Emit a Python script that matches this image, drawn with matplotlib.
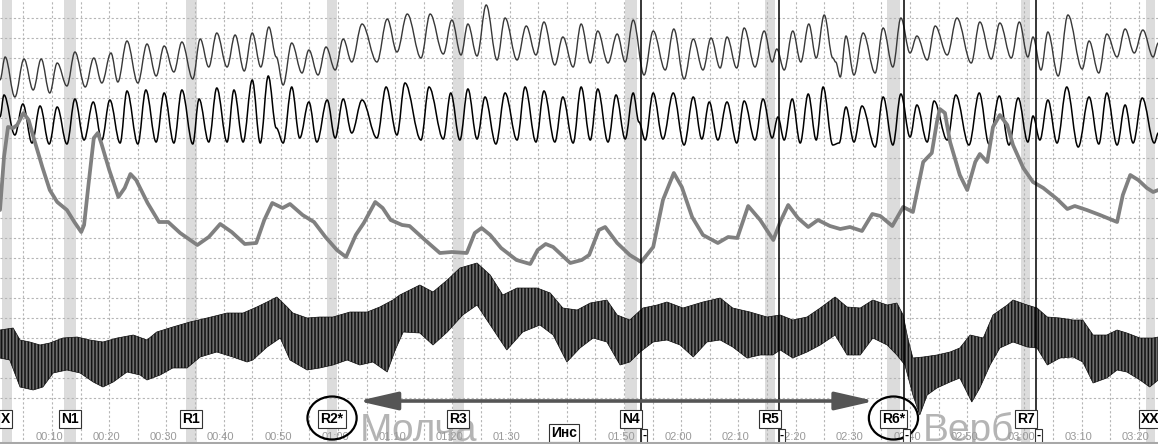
import matplotlib
matplotlib.use("Agg")
import matplotlib.pyplot as plt
from matplotlib.path import Path
from matplotlib.patches import PathPatch, Ellipse, FancyArrowPatch

plt.rcParams['font.family'] = ['Liberation Sans', 'DejaVu Sans']
plt.rcParams['hatch.linewidth'] = 1.1

# ---------------- data (time in seconds, values in chart units) ----------------
resp1_t = [0.9, 1.8, 3.5, 5.1, 6.7, 8.1, 9.6, 10.9, 12.6, 14.0, 15.8, 17.3, 18.7, 20.3, 21.5, 23.1,
           25.0, 26.6, 28.2, 29.6, 31.3, 32.7, 34.6, 35.9, 37.4, 38.8, 40.6, 42.0, 43.6, 45.0, 46.5,
           47.9, 49.2, 50.4, 51.9, 53.7, 54.9, 56.5, 57.9, 59.5, 60.9, 62.4, 64.2, 66.8, 68.6, 70.3,
           72.1, 74.5, 76.1, 78.4, 79.9, 81.5, 82.7, 84.3, 85.9, 87.8, 89.2, 91.3, 92.9, 94.6, 96.0,
           97.9, 99.3, 101.1, 102.5, 104.1, 105.4, 107.2, 108.8, 110.2, 111.6, 113.5, 115.1, 117.2,
           118.7, 120.5, 122.1, 123.8, 125.2, 126.8, 128.0, 129.7, 131.0, 132.9, 134.5, 135.9, 136.7,
           138.0, 139.5, 140.9, 142.3, 143.6, 145.0, 146.5, 147.0, 147.8, 148.8, 150.2, 151.8, 153.9,
           155.3, 157.0, 158.4, 160.0, 161.2, 163.0, 164.4, 166.5, 168.2, 170.7, 172.2, 174.2, 175.7,
           177.7, 179.1, 180.6, 181.5, 182.9, 184.1, 185.9, 187.6, 190.1, 191.3, 193.0, 194.4, 196.2,
           197.6, 199.2, 200.7, 202.5, 203.4]
resp1_v = [80, 57, 97, 59, 90, 59, 93, 63, 86, 52, 87, 58, 83, 53, 82, 41,
           83, 44, 76, 46, 72, 42, 79, 39, 67, 33, 67, 35, 71, 33, 67,
           27, 57, 85, 43, 73, 50, 75, 47, 70, 39, 62, 24, 62, 19, 52,
           14, 58, 14, 54, 20, 55, 24, 56, 5, 60, 18, 60, 26, 55, 22,
           65, 37, 67, 24, 63, 31, 63, 34, 62, 20, 75, 31, 70,
           29, 79, 39, 70, 38, 68, 37, 68, 28, 67, 31, 62, 49,
           70, 31, 62, 24, 58, 15, 58, 62, 77, 36, 75, 33, 73,
           28, 67, 18, 53, 36, 60, 26, 55, 18, 63, 22, 59, 23,
           58, 22, 57, 37, 70, 32, 76, 15, 69, 41, 73, 34, 57,
           29, 53, 30, 57, 43]

resp2_t = [0.9, 1.6, 3.5, 4.9, 6.5, 7.9, 9.5, 10.9, 12.6, 14.0, 15.6, 17.2, 18.7, 20.1, 21.9, 23.1,
           25.0, 26.4, 28.2, 29.6, 31.3, 32.7, 34.6, 35.7, 37.4, 38.8, 40.6, 41.8, 43.4, 45.0, 46.4,
           47.8, 49.2, 50.4, 51.9, 53.3, 54.9, 56.3, 58.1, 59.5, 60.9, 62.4, 64.2, 66.8, 68.4, 70.3,
           71.7, 74.5, 75.9, 78.4, 79.7, 81.3, 82.7, 84.3, 85.7, 87.6, 89.2, 91.3, 92.7, 94.6, 96.0,
           97.9, 99.3, 101.1, 102.5, 104.1, 105.4, 107.2, 108.6, 110.2, 111.6, 112.6, 113.7, 115.1,
           116.8, 118.6, 120.5, 122.1, 123.6, 124.9, 126.4, 128.0, 129.7, 131.0, 132.9, 134.3, 135.9,
           136.9, 138.0, 139.4, 140.8, 142.2, 143.6, 144.8, 146.5, 147.6, 148.8, 150.2, 151.6, 153.9,
           155.3, 157.0, 158.4, 160.0, 161.2, 163.0, 164.2, 166.5, 168.0, 170.3, 172.1, 173.8, 175.6,
           177.3, 178.9, 180.6, 181.5, 182.7, 184.1, 185.7, 187.4, 189.4, 191.3, 193.0, 194.4, 196.2,
           197.6, 199.0, 200.6, 202.7, 203.4]
resp2_v = [117, 95, 135, 104, 143, 106, 144, 107, 144, 99, 140, 102, 140, 100, 143, 91,
           144, 90, 142, 93, 143, 90, 144, 99, 142, 88, 142, 90, 142, 80, 143,
           76, 128, 143, 87, 138, 102, 142, 100, 138, 99, 133, 100, 138, 87, 135,
           83, 140, 87, 139, 93, 140, 89, 139, 97, 144, 93, 140, 87, 142, 91,
           142, 97, 143, 87, 140, 89, 142, 95, 139, 93, 122, 140, 93,
           139, 93, 145, 97, 139, 102, 140, 102, 143, 101, 140, 99, 138,
           117, 140, 99, 143, 94, 140, 87, 145, 143, 107, 142, 106, 147,
           97, 145, 94, 137, 105, 142, 101, 140, 95, 145, 93, 144, 96,
           145, 98, 142, 116, 140, 100, 143, 87, 147, 97, 144, 93, 145,
           105, 143, 98, 143, 133]

eda_t = [0.9, 1.6, 2.3, 3.2, 3.9, 5.0, 5.9, 6.9, 8.3, 9.6, 10.9, 12.6, 13.9, 15.1, 15.6, 16.4,
         17.3, 18.0, 18.6, 20.0, 21.6, 22.7, 23.7, 24.7, 26.7, 28.7, 30.3, 32.4, 35.4, 37.4, 39.4,
         41.4, 43.7, 45.7, 47.1, 48.5, 50.3, 51.6, 53.8, 55.8, 57.8, 59.8, 61.4, 63.1, 64.5, 66.5,
         67.8, 69.2, 71.2, 72.5, 75.2, 77.8, 79.9, 82.5, 83.9, 85.1, 86.6, 88.5, 91.2, 93.6, 94.9,
         96.3, 97.6, 100.6, 102.6, 103.9, 105.6, 106.7, 108.8, 111.0, 113.0, 115.1, 116.8, 118.7,
         120.1, 121.9, 123.8, 126.4, 128.2, 129.8, 131.7, 133.8, 136.1, 137.3, 138.7, 140.4, 142.2,
         143.9, 146.0, 147.8, 149.5, 151.6, 153.4, 154.8, 156.9, 158.8, 160.5, 162.3, 163.8, 164.7,
         165.2, 166.1, 167.0, 168.7, 170.0, 171.4, 172.2, 173.5, 174.5, 175.7, 177.0, 178.0, 179.8,
         181.5, 183.3, 185.7, 187.5, 188.8, 190.9, 193.2, 196.2, 197.2, 198.5, 199.9, 201.4, 202.5,
         203.4]
eda_v = [210, 157, 127, 128, 125, 113, 120, 140, 167, 190, 202, 210, 222, 232, 225, 183,
         138, 133, 143, 170, 197, 188, 174, 180, 203, 222, 222, 233, 245, 237, 224,
         232, 244, 243, 220, 203, 208, 204, 215, 222, 237, 250, 257, 235, 223, 202,
         208, 220, 225, 226, 240, 253, 252, 253, 233, 228, 235, 248, 260, 264, 250,
         244, 247, 263, 260, 255, 230, 227, 243, 255, 262, 247, 200, 173,
         187, 217, 235, 243, 237, 238, 206, 220, 240, 222, 205, 218, 227,
         220, 226, 229, 227, 231, 214, 216, 226, 207, 212, 162, 153, 122,
         109, 113, 142, 175, 190, 162, 154, 162, 127, 115, 125, 145, 168,
         182, 188, 199, 209, 206, 210, 215, 222, 195, 175, 180, 188, 192,
         190]

cardio_top_t = [0.9, 3.2, 4.4, 6.1, 7.9, 9.6, 11.9, 14.4, 16.6, 18.9, 21.4, 24.2, 26.6, 28.3, 31.1,
                34.1, 37.1, 40.6, 43.4, 45.8, 47.6, 49.3, 51.1, 52.1, 54.6, 56.8, 59.1, 62.1, 65.1,
                67.3, 69.6, 70.8, 74.3, 76.6, 79.1, 81.3, 84.3, 86.6, 88.8, 91.3, 94.8, 97.1, 99.3,
                101.8, 104.1, 107.0, 108.8, 111.0, 113.3, 115.8, 117.5, 120.3, 123.8, 126.8, 129.0,
                132.0, 135.0, 137.3, 139.5, 142.0, 144.3, 146.9, 149.0, 151.3, 153.5, 156.0, 157.7,
                158.8, 159.6, 160.5, 162.3, 164.7, 167.0, 168.7, 170.5, 172.8, 174.5, 177.0, 178.0,
                180.5, 182.2, 184.0, 186.2, 188.5, 190.2, 192.0, 194.4, 196.2, 197.9, 200.2, 202.5, 203.4]
cardio_top_v = [330, 328, 340, 342, 345, 343, 338, 337, 340, 342, 338, 335, 340, 332, 327,
                322, 318, 313, 313, 307, 302, 297, 307, 313, 318, 317, 317, 312, 312,
                307, 300, 295, 285, 292, 280, 268, 263, 275, 295, 288, 288, 293, 308,
                310, 303, 300, 315, 320, 308, 305, 302, 308, 302, 298, 308,
                312, 317, 315, 320, 317, 308, 297, 307, 308, 300, 305, 303,
                315, 338, 358, 357, 355, 352, 348, 335, 338, 315, 305, 300,
                305, 308, 317, 318, 320, 320, 335, 335, 330, 333, 338, 338, 337]
cardio_bot_t = [0.9, 2.6, 4.4, 6.7, 8.4, 10.2, 12.6, 14.9, 17.2, 18.9, 20.7, 23.1, 25.4, 26.6, 28.9,
                31.1, 33.6, 35.9, 38.8, 41.6, 44.1, 45.1, 47.6, 49.9, 51.6, 54.6, 56.8, 59.1, 61.6,
                63.8, 66.1, 68.6, 70.0, 71.4, 74.3, 76.6, 79.1, 81.8, 84.3, 86.6, 89.5, 92.3, 95.3,
                97.6, 100.0, 102.3, 104.6, 107.0, 109.3, 111.0, 112.8, 115.1, 117.5, 119.8, 122.1,
                124.5, 126.8, 129.0, 131.5, 133.8, 136.0, 137.3, 139.5, 142.0, 144.3, 146.9, 149.0,
                151.3, 153.5, 156.0, 157.7, 159.1, 160.5, 161.7, 163.0, 164.7, 167.0, 168.7, 170.8,
                172.2, 174.0, 175.7, 178.0, 180.5, 182.2, 184.0, 186.2, 188.5, 190.2, 192.0, 194.4,
                196.2, 197.9, 200.2, 201.9, 203.4]
cardio_bot_v = [358, 360, 387, 390, 387, 373, 370, 373, 382, 387, 382, 372, 375, 380, 375,
                368, 368, 357, 352, 357, 362, 360, 347, 338, 360, 370, 368, 365, 360,
                365, 362, 372, 350, 332, 333, 345, 332, 315, 305, 325, 350, 332, 325,
                335, 362, 348, 338, 342, 365, 362, 352, 342, 340, 345, 357,
                342, 340, 347, 358, 355, 355, 350, 358, 352, 345, 335, 355,
                355, 338, 345, 355, 365, 395, 415, 395, 388, 382, 378, 402,
                388, 365, 348, 342, 347, 348, 365, 358, 357, 362, 383, 378,
                370, 372, 380, 387, 380]

question_labels = ['X', 'N1', 'R1', 'R2*', 'R3', 'N4', 'R5', 'R6*', 'R7', 'XX']
question_start = [1.2, 12.1, 33.4, 58.1, 80.1, 110.2, 134.6, 156.0, 179.4, 201.3]
question_end = [3.0, 14.2, 35.3, 59.8, 82.0, 112.3, 136.4, 158.2, 181.0, 202.8]
answer_times = [113.0, 137.1, 158.9, 182.0]
answer_labels = ['-', '-', '-', '-']
circled = ['R2*', 'R6*']
section_labels = ['Молча', 'Верб.']
section_starts = [63.8, 162.2]
arrow_span = (63.5, 153.8)
note_label = 'Инс'
note_time = 99.5
tick_seconds = [10, 20, 30, 40, 50, 60, 70, 80, 90, 100, 110, 120, 130, 140, 150, 160, 170, 180, 190, 200]
tick_labels = ['00:10', '00:20', '00:30', '00:40', '00:50', '01:00', '01:10', '01:20', '01:30', '01:40',
               '01:50', '02:00', '02:10', '02:20', '02:30', '02:40', '02:50', '03:00', '03:10', '03:20']

# ---------------- figure ----------------
T0, T1 = 0.9, 203.35
fig = plt.figure(figsize=(11.58, 4.44), dpi=100)
ax = fig.add_axes([0, 0, 1, 1])
ax.set_xlim(T0, T1)
ax.set_ylim(444, 0)
ax.axis('off')

# question bands
for s, e in zip(question_start, question_end):
    ax.axvspan(s, e, color='#dcdcdc', lw=0, zorder=0.5)

# dotted grid
for t in range(5, 205, 5):
    ax.axvline(t, color='#b5b5b5', lw=0.8, ls=(0, (2, 2)), zorder=1)
for y in range(18, 400, 20):
    ax.axhline(y, color='#b5b5b5', lw=0.8, ls=(0, (2, 2)), zorder=1)


def smooth_path(ts, vs, a=0.36):
    verts = [(ts[0], vs[0])]
    codes = [Path.MOVETO]
    for i in range(1, len(ts)):
        t0, v0, t1, v1 = ts[i - 1], vs[i - 1], ts[i], vs[i]
        d = t1 - t0
        verts += [(t0 + a * d, v0), (t1 - a * d, v1), (t1, v1)]
        codes += [Path.CURVE4] * 3
    return Path(verts, codes)


ax.add_patch(PathPatch(smooth_path(resp1_t, resp1_v), fc='none', ec='#383838', lw=1.0, zorder=3))
ax.add_patch(PathPatch(smooth_path(resp2_t, resp2_v), fc='none', ec='#000000', lw=1.1, zorder=3))

# EDA
ax.plot(eda_t, eda_v, color='#808080', lw=2.7, solid_joinstyle='round', solid_capstyle='round', zorder=3)

# cardio band
poly_t = cardio_top_t + cardio_bot_t[::-1]
poly_v = cardio_top_v + cardio_bot_v[::-1]
ax.fill(poly_t, poly_v, facecolor='#6e6e6e', edgecolor='#111111', hatch='|||||', lw=0.5, zorder=3)

# answer lines
for t in answer_times:
    ax.axvline(t, color='black', lw=1.1, zorder=4)

# section texts
for lab, t in zip(section_labels, section_starts):
    ax.text(t, 441, lab, fontsize=28, color='#b4b4b4', ha='left', va='baseline', zorder=2)

# arrow
arr = FancyArrowPatch((arrow_span[0], 401), (arrow_span[1], 401),
                      arrowstyle='<|-|>,head_length=24,head_width=5.5', mutation_scale=1,
                      color='#555555', lw=2.6, shrinkA=0, shrinkB=0, zorder=5)
ax.add_patch(arr)

# tick labels
for t, lab in zip(tick_seconds, tick_labels):
    ax.text(t - 0.5, 437, lab, fontsize=8, color='#9a9a9a', ha='center', va='center', zorder=4)

box = dict(boxstyle='square,pad=0.15', fc='white', ec='#333333', lw=0.8)
for lab, s, e in zip(question_labels, question_start, question_end):
    c = (s + e) / 2
    if lab == 'X':
        c = 1.9
    ax.text(c, 419, lab, fontsize=10, fontweight='bold', ha='center', va='center', bbox=box, zorder=6)
    if lab in circled:
        ax.add_patch(Ellipse((c, 418), 8.6, 43, fc='none', ec='black', lw=1.6, zorder=6))

for t, lab in zip(answer_times, answer_labels):
    ax.text(t + 0.15, 436, lab, fontsize=9, fontweight='bold', ha='left', va='center',
            bbox=dict(boxstyle='square,pad=0.1', fc='white', ec='#333333', lw=0.8), zorder=6)

ax.text(note_time, 433, note_label, fontsize=10, fontweight='bold', ha='center', va='center', bbox=box, zorder=6)

ax.axhline(442.8, color='#a8a8a8', lw=2.2, zorder=6)

fig.savefig('out.png', dpi=100)
